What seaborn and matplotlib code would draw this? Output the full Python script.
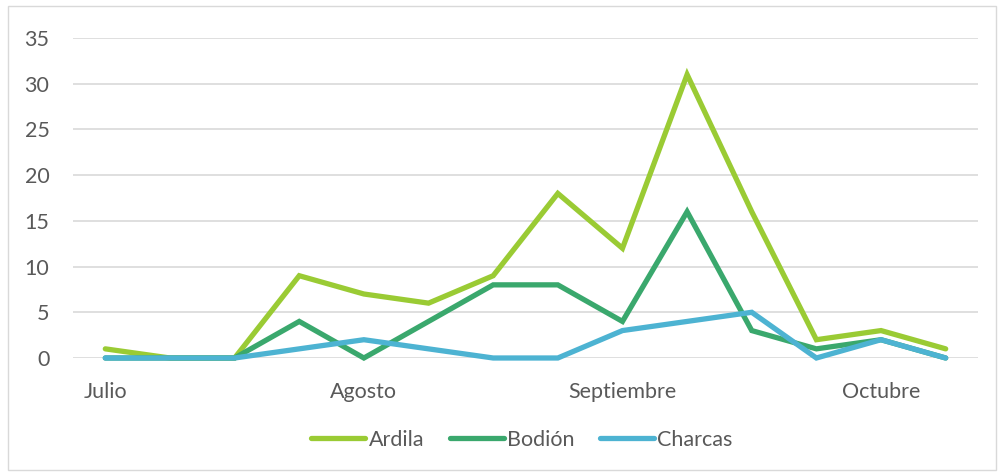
import pandas as pd
import matplotlib.pyplot as plt
import seaborn as sns
from matplotlib.patches import Rectangle

sns.set_theme(style='white')
plt.rcParams['font.family'] = ['Lato', 'DejaVu Sans']

# fortnightly samples, July to October
semanas = list(range(14))
ardila = [1, 0, 0, 9, 7, 6, 9, 18, 12, 31, 16, 2, 3, 1]
bodion = [0, 0, 0, 4, 0, 4, 8, 8, 4, 16, 3, 1, 2, 0]
charcas = [0, 0, 0, 1, 2, 1, 0, 0, 3, 4, 5, 0, 2, 0]
meses = ['Julio', 'Agosto', 'Septiembre', 'Octubre']
pos_meses = [0, 4, 8, 12]

colores = {'Ardila': '#9acb34', 'Bodión': '#3aa86d', 'Charcas': '#4db3d2'}

df = pd.DataFrame({'semana': semanas, 'Ardila': ardila, 'Bodión': bodion, 'Charcas': charcas})
df = df.melt(id_vars='semana', var_name='sitio', value_name='n')

fig = plt.figure(figsize=(10.02, 4.73), dpi=100)
ax = fig.add_axes([73 / 1002, 1 - 358 / 473, 905 / 1002, 320 / 473])

sns.lineplot(data=df, x='semana', y='n', hue='sitio', palette=colores,
             linewidth=3.8, ax=ax, legend=False, zorder=3)

ax.set_xlim(-0.5, 13.5)
ax.set_ylim(0, 35)
ax.set_yticks(range(0, 36, 5))
ax.set_xticks(pos_meses)
ax.set_xticklabels(meses)
ax.grid(axis='y', color='#d9d9d9', linewidth=1.2)
ax.set_axisbelow(True)
for s in ax.spines.values():
    s.set_visible(False)
ax.tick_params(axis='both', length=0, labelsize=15.5, labelcolor='#595959')
ax.tick_params(axis='y', pad=17)
ax.tick_params(axis='x', pad=17)
ax.set_xlabel('')
ax.set_ylabel('')
for ln in ax.lines:
    ln.set_clip_on(False)
    ln.set_solid_capstyle('round')
    ln.set_solid_joinstyle('miter')

handles = [plt.Line2D([], [], color=c, linewidth=3.8, solid_capstyle='round') for c in colores.values()]
fig.legend(handles, list(colores.keys()), loc='center', bbox_to_anchor=(522 / 1002, 1 - 440 / 473),
           ncol=3, frameon=False, fontsize=15.5, handlelength=2.5, handletextpad=0.15,
           columnspacing=1.2, labelcolor='#595959')

fig.patches.append(Rectangle((8 / 1002, 3 / 473), 988 / 1002, 464 / 473, transform=fig.transFigure,
                             fill=False, edgecolor='#d9d9d9', linewidth=1))

fig.savefig('out.png', dpi=100)
